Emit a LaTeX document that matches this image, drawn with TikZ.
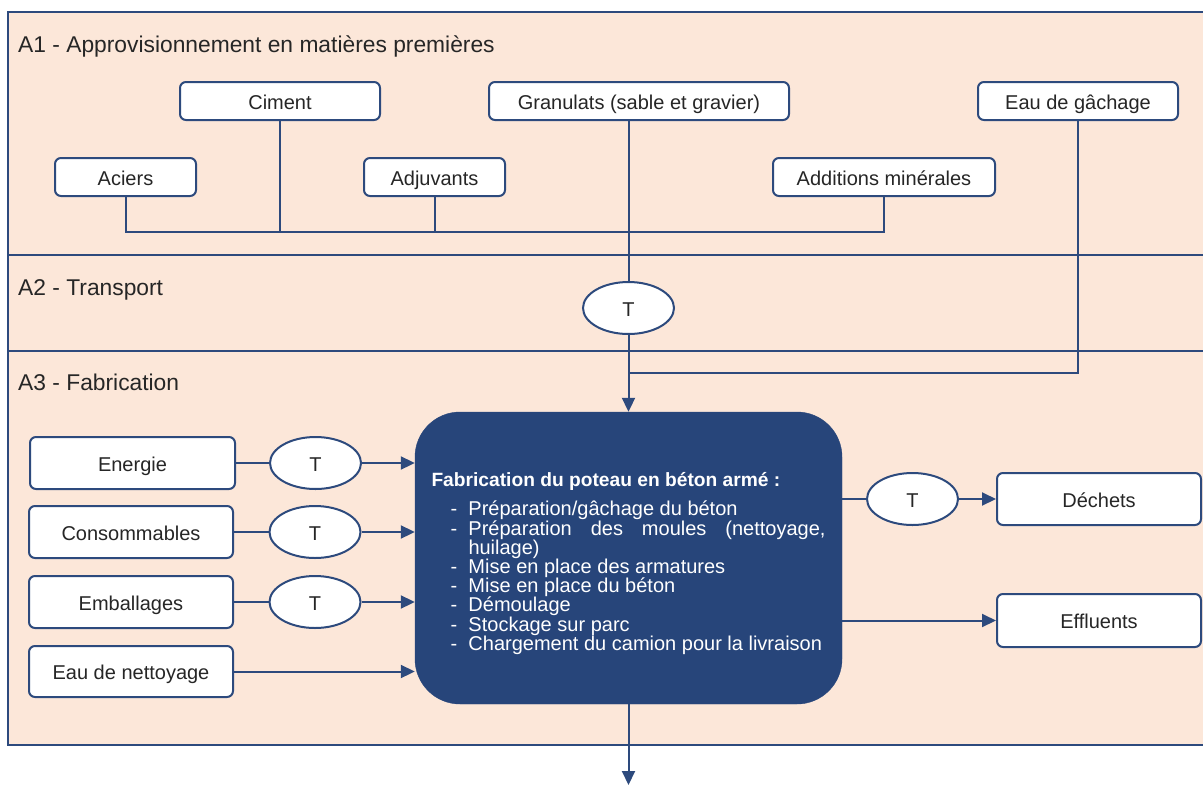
\documentclass[tikz,border=0pt]{standalone}
\usepackage{fontspec}
\setmainfont{Liberation Sans}
\usetikzlibrary{arrows.meta,shapes.geometric}
\definecolor{peach}{HTML}{FCE7D9}
\definecolor{navy}{HTML}{2D4A7D}
\definecolor{boxnavy}{HTML}{27457A}
\definecolor{ink}{HTML}{262626}
\newcommand\flowitem[1]{\par\hangindent=37pt\hangafter=1\noindent\makebox[37pt][l]{\hspace{19pt}-}#1\par}
\begin{document}
\begin{tikzpicture}[x=1pt,y=-1pt,
  lbl/.style={draw=navy,line width=2pt,fill=white,rounded corners=6pt,text=ink,
    font=\fontsize{20}{24}\selectfont,inner sep=0pt,text height=17pt,text depth=1pt},
  tnode/.style={ellipse,draw=navy,line width=2pt,fill=white,text=ink,
    minimum width=91pt,minimum height=52pt,inner sep=0pt,text height=17pt,text depth=1pt,
    font=\fontsize{20}{24}\selectfont},
  wire/.style={draw=navy,line width=2pt},
  arr/.style={wire,-{Triangle[length=14pt,width=13pt]}},
  zone/.style={anchor=base west,text=ink,font=\fontsize{22.8}{26}\selectfont,inner sep=0pt},
  central/.style={fill=boxnavy,draw=boxnavy,rounded corners=45pt,minimum width=427pt,
    minimum height=292pt,text width=394pt,inner xsep=16.5pt,inner ysep=0pt,
    align=justify,text=white}
]
\clip (0,0) rectangle (1203,785);
\fill[white] (0,0) rectangle (1203,785);
\draw[navy,line width=2.5pt,fill=peach] (8,12) rectangle (1230,745);
\draw[navy,line width=2pt] (8,255) -- (1230,255);
\draw[navy,line width=1.5pt] (8,351) -- (1230,351);

\node[zone] (za1) at (18,52) {A1 - Approvisionnement en matières premières};
\node[zone] (za2) at (18,295) {A2 - Transport};
\node[zone] (za3) at (18,390) {A3 - Fabrication};

% A1 boxes
\node[lbl,minimum width=200pt,minimum height=38pt] (ciment) at (280,101) {Ciment};
\node[lbl,minimum width=300pt,minimum height=38pt] (granulats) at (639,101) {Granulats (sable et gravier)};
\node[lbl,minimum width=200pt,minimum height=38pt] (eau) at (1078,101) {Eau de gâchage};
\node[lbl,minimum width=141pt,minimum height=38pt] (aciers) at (125.5,177) {Aciers};
\node[lbl,minimum width=141pt,minimum height=38pt] (adjuvants) at (434.5,177) {Adjuvants};
\node[lbl,minimum width=222pt,minimum height=38pt] (additions) at (884,177) {Additions minérales};

% transport
\node[tnode] (t2) at (628.5,308) {T};

% central
\node[central] (central) at (628.5,558) {%
\hyphenpenalty=10000 \exhyphenpenalty=10000 \tolerance=10000 \lineskiplimit=-10pt
{\bfseries\fontsize{19.2}{22}\selectfont \rule{0pt}{25pt}Fabrication du poteau en béton armé :\par}\vspace{10pt}
\fontsize{20}{19.2}\selectfont
\flowitem{Préparation/gâchage du béton}
\flowitem{Préparation des moules (nettoyage, huilage)}
\flowitem{Mise en place des armatures}
\flowitem{Mise en place du béton}
\flowitem{Démoulage}
\flowitem{Stockage sur parc}
\flowitem{Chargement du camion pour la livraison}};

% A1 connectors
\path (aciers.south) ++(0,35) coordinate (busL);
\draw[wire] (aciers.south) -- (busL) -| (additions.south);
\draw[wire] (ciment.south) -- (ciment.south |- busL);
\draw[wire] (adjuvants.south) -- (adjuvants.south |- busL);
\draw[wire] (granulats.south -| t2.north) -- (t2.north);
\coordinate (join) at (628.5,373);
\draw[wire] (eau.south) |- (join);
\draw[arr] (t2.south) -- (central.north);

% left inputs
\node[lbl,minimum width=205pt,minimum height=52pt] (energie) at (132.5,463) {Energie};
\node[lbl,minimum width=204pt,minimum height=52pt] (conso) at (131,532) {Consommables};
\node[lbl,minimum width=204pt,minimum height=52pt] (emball) at (131,602) {Emballages};
\node[lbl,minimum width=204pt,minimum height=51pt] (nett) at (131,671.5) {Eau de nettoyage};
\node[tnode] (te1) at (315.5,463) {T};
\node[tnode] (te2) at (315,532) {T};
\node[tnode] (te3) at (315,602) {T};
\draw[wire] (energie) -- (te1);
\draw[wire] (conso) -- (te2);
\draw[wire] (emball) -- (te3);
\draw[arr] (te1) -- (central.west |- te1);
\draw[arr] (te2) -- (central.west |- te2);
\draw[arr] (te3) -- (central.west |- te3);
\draw[arr] (nett) -- (central.west |- nett);

% right outputs
\node[tnode] (tdech) at (912.5,499) {T};
\node[lbl,minimum width=204pt,minimum height=52pt] (dechets) at (1099,499) {Déchets};
\node[lbl,minimum width=204pt,minimum height=53pt] (effluents) at (1099,620.5) {Effluents};
\draw[wire] (central.east |- tdech) -- (tdech);
\draw[arr] (tdech) -- (dechets);
\draw[arr] (central.east |- effluents) -- (effluents);

% output
\coordinate (outp) at (628.5,785);
\draw[arr] (central.south) -- (outp);
\end{tikzpicture}
\end{document}
